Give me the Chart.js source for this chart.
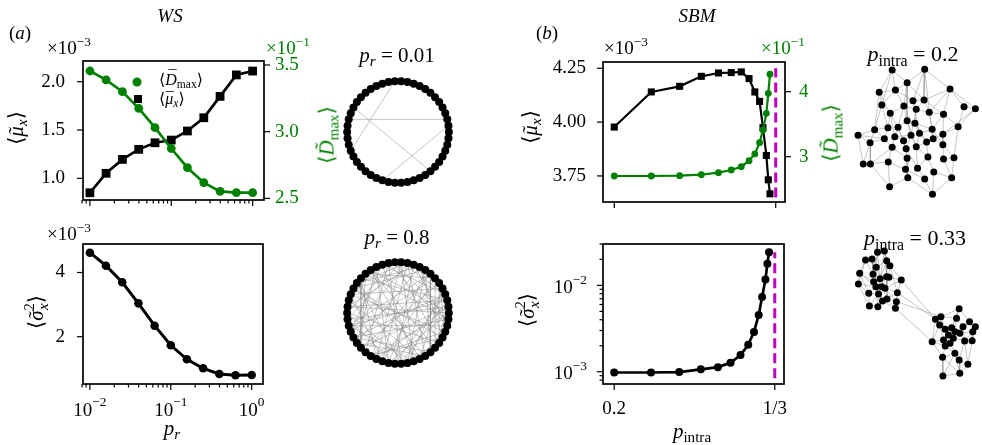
<!DOCTYPE html>
<html>
<head>
<meta charset="utf-8">
<script src="https://cdn.jsdelivr.net/npm/chart.js@4.4.1/dist/chart.umd.min.js"></script>
<style>
html, body { margin: 0; padding: 0; background: #fff; }
#fig { position: relative; width: 982px; height: 445px; overflow: hidden;
       font-family: "Liberation Serif", "DejaVu Serif", serif; color: #000; }
#fig canvas { position: absolute; left: 0; top: 0; }
.t { position: absolute; white-space: nowrap; line-height: 1; transform: translate(-50%, -50%); }
.l { transform: translate(0, -50%); }
.rot { transform: translate(-50%, -50%) rotate(-90deg); }
.g { color: #008000; }
i { font-style: italic; }
sub { font-size: 0.72em; vertical-align: -0.3em; line-height: 0; }
sup { font-size: 0.7em; vertical-align: 0.55em; line-height: 0; }
.mk { position: absolute; transform: translate(-50%, -50%); }
.acc { position: relative; display: inline-block; font-style: italic; }
.acc::after { content: attr(data-a); position: absolute; left: 58%; top: 0.02em; transform: translateX(-50%); font-style: normal; }
.acc.hi::after { top: -0.2em; left: 62%; }
</style>
</head>
<body>
<div id="fig">
  <canvas id="wsTop" width="982" height="445"></canvas>
  <canvas id="wsBot" width="982" height="445"></canvas>
  <canvas id="sbmTop" width="982" height="445"></canvas>
  <canvas id="sbmBot" width="982" height="445"></canvas>
  <canvas id="ring001" width="982" height="445"></canvas>
  <canvas id="ring08" width="982" height="445"></canvas>
  <canvas id="sbm02" width="982" height="445"></canvas>
  <canvas id="sbm033" width="982" height="445"></canvas>

  <!-- titles -->
  <div class="t" style="left:170px;top:15px;font-size:19px"><i>WS</i></div>
  <div class="t" style="left:697px;top:15px;font-size:19px"><i>SBM</i></div>
  <div class="t" style="left:20px;top:32px;font-size:19px">(<i>a</i>)</div>
  <div class="t" style="left:547px;top:32px;font-size:19px">(<i>b</i>)</div>

  <!-- offset texts -->
  <div class="t l" style="left:47px;top:47px;font-size:19px">×10<sup>−3</sup></div>
  <div class="t l g" style="left:266px;top:47px;font-size:19px">×10<sup>−1</sup></div>
  <div class="t l" style="left:47px;top:233px;font-size:19px">×10<sup>−3</sup></div>
  <div class="t l" style="left:604px;top:47px;font-size:19px">×10<sup>−3</sup></div>
  <div class="t l g" style="left:761px;top:47px;font-size:19px">×10<sup>−1</sup></div>

  <!-- axis titles -->
  <div class="t rot" style="left:16px;top:128px;font-size:21px">⟨<span class="acc" data-a="˜">μ</span><sub><i>x</i></sub>⟩</div>
  <div class="t rot g" style="left:327px;top:135px;font-size:21px">⟨<span class="acc hi" data-a="˜">D</span><sub>max</sub>⟩</div>
  <div class="t rot" style="left:36px;top:312px;font-size:21px">⟨<span class="acc" data-a="˜">σ</span><sup>2</sup><sub style="margin-left:-0.45em"><i>x</i></sub>⟩</div>
  <div class="t rot" style="left:530px;top:127px;font-size:21px">⟨<span class="acc" data-a="˜">μ</span><sub><i>x</i></sub>⟩</div>
  <div class="t rot g" style="left:831px;top:133px;font-size:21px">⟨<span class="acc hi" data-a="˜">D</span><sub>max</sub>⟩</div>
  <div class="t rot" style="left:527px;top:310px;font-size:21px">⟨<span class="acc" data-a="˜">σ</span><sup>2</sup><sub style="margin-left:-0.45em"><i>x</i></sub>⟩</div>
  <div class="t" style="left:172px;top:428px;font-size:21px"><i>p</i><sub><i>r</i></sub></div>
  <div class="t" style="left:692px;top:431px;font-size:21px"><i>p</i><sub>intra</sub></div>

  <!-- network titles -->
  <div class="t" style="left:397px;top:55px;font-size:21px"><i>p</i><sub><i>r</i></sub> = 0.01</div>
  <div class="t" style="left:397px;top:237px;font-size:21px"><i>p</i><sub><i>r</i></sub> = 0.8</div>
  <div class="t" style="left:913px;top:54px;font-size:22px"><i>p</i><sub>intra</sub> = 0.2</div>
  <div class="t" style="left:915px;top:238px;font-size:22px"><i>p</i><sub>intra</sub> = 0.33</div>

  <!-- legend (WS top panel) -->
  <div class="mk" style="left:137px;top:82px;width:9px;height:9px;border-radius:50%;background:#008000"></div>
  <div class="t l" style="left:159px;top:80px;font-size:16px">⟨<span class="acc hi" data-a="¯">D</span><sub>max</sub>⟩</div>
  <div class="mk" style="left:138px;top:99px;width:8px;height:8px;background:#000"></div>
  <div class="t l" style="left:159px;top:99px;font-size:16px">⟨<span class="acc" data-a="¯">μ</span><sub><i>x</i></sub>⟩</div>
</div>

<script>
// ---------- WS sweep (x = rewiring prob p_r) ----------
const WS_PR = [0.01, 0.0158, 0.0251, 0.0398, 0.0631, 0.1, 0.158, 0.251, 0.398, 0.631, 1.0];
const WS_MU = [0.851, 1.052, 1.196, 1.300, 1.368, 1.396, 1.490, 1.627, 1.848, 2.070, 2.110];      // x1e-3
const WS_DMAX = [3.455, 3.388, 3.300, 3.175, 3.030, 2.874, 2.730, 2.618, 2.553, 2.543, 2.543];    // x1e-1
const WS_SIGMA2 = [4.617, 4.212, 3.695, 3.040, 2.343, 1.732, 1.296, 1.016, 0.838, 0.798, 0.807]; // x1e-3

// ---------- SBM sweep (x = p_intra) ----------
const SBM_P = [0.2, 0.2306, 0.254, 0.2719, 0.2861, 0.2966, 0.3049, 0.3113, 0.3161, 0.32, 0.3228, 0.3256, 0.3272, 0.3286];
const SBM_MU = [3.977, 4.140, 4.166, 4.2125, 4.228, 4.230, 4.233, 4.202, 4.140, 4.096, 3.974, 3.845, 3.732, 3.667]; // x1e-3
const SBM_DMAX = [2.703, 2.703, 2.708, 2.723, 2.754, 2.795, 2.846, 2.938, 3.042, 3.215, 3.410, 3.667, 3.975, 4.270]; // x1e-1
const SBM_SIGMA2 = [0.98e-3, 0.98e-3, 0.99e-3, 1.066e-3, 1.13e-3, 1.27e-3, 1.56e-3, 2.05e-3, 2.89e-3, 4.54e-3, 7.32e-3, 11.7e-3, 17.8e-3, 24.2e-3];
const SBM_CRIT = 1 / 3;
const SBM_CRIT_MU = [3.65, 4.25];
const SBM_CRIT_SIGMA2 = [8.4e-4, 2.42e-2];

// ---------- ticks ('^' marks a superscript) ----------
const WS_X_TICKS = [0.01, 0.1, 1];
const WS_X_LABELS = ['10^−2', '10^−1', '10^0'];
const WS_X_MINOR = [0.008, 0.009, 0.02, 0.03, 0.04, 0.05, 0.06, 0.07, 0.08, 0.09,
                    0.2, 0.3, 0.4, 0.5, 0.6, 0.7, 0.8, 0.9];
const WS_MU_TICKS = [1.0, 1.5, 2.0];
const WS_MU_LABELS = ['1.0', '1.5', '2.0'];
const WS_DMAX_TICKS = [2.5, 3.0, 3.5];
const WS_DMAX_LABELS = ['2.5', '3.0', '3.5'];
const WS_SIGMA2_TICKS = [2, 4];
const WS_SIGMA2_LABELS = ['2', '4'];
const SBM_X_TICKS = [0.2, 1 / 3];
const SBM_X_LABELS = ['0.2', '1/3'];
const SBM_MU_TICKS = [3.75, 4.0, 4.25];
const SBM_MU_LABELS = ['3.75', '4.00', '4.25'];
const SBM_DMAX_TICKS = [3, 4];
const SBM_DMAX_LABELS = ['3', '4'];
const SBM_SIGMA2_TICKS = [1e-3, 1e-2];
const SBM_SIGMA2_LABELS = ['10^−3', '10^−2'];
const SBM_SIGMA2_MINOR = [8e-4, 9e-4, 2e-3, 3e-3, 4e-3, 5e-3, 6e-3, 7e-3, 8e-3, 9e-3, 2e-2, 3e-2];

// ---------- networks ----------
const WS_N = 50;
const WS_EDGES_001 = [[13, 28], [21, 43], [23, 2], [35, 1], [40, 45]];
const WS_EDGES_08 = [
  [0, 17], [0, 33], [1, 26], [1, 44], [2, 19], [2, 38], [3, 12], [3, 29], [4, 41], [4, 22],
  [5, 31], [5, 47], [6, 18], [6, 35], [7, 27], [7, 43], [8, 21], [8, 39], [9, 46], [9, 30],
  [10, 24], [10, 37], [11, 42], [11, 28], [12, 34], [13, 45], [13, 25], [14, 32], [14, 48], [15, 40],
  [15, 3], [16, 36], [16, 23], [17, 44], [18, 49], [19, 31], [20, 38], [20, 9], [21, 46], [22, 35],
  [23, 41], [24, 2], [25, 39], [26, 12], [27, 48], [28, 6], [29, 43], [30, 16], [31, 1], [32, 7],
  [33, 47], [34, 19], [35, 11], [36, 0], [37, 26], [38, 14], [39, 4], [40, 27], [41, 17], [42, 30],
  [43, 8], [44, 21], [45, 5], [46, 33], [47, 22], [48, 10], [49, 29], [0, 24], [12, 40], [18, 31],
  [25, 45], [36, 8], [3, 37], [15, 28], [20, 42], [44, 6], [1, 34], [49, 13], [2, 27], [11, 20], [39, 46]
];

// spring-layout positions (layout units, y down)
const SBM02_X = [222, 322, 268, 182, 232, 400, 190, 258, 286, 320, 296, 336, 380, 443, 478, 216, 268, 292, 209, 240,
                 168, 345, 425, 117, 198, 230, 280, 306, 257, 328, 348, 378, 154, 222, 265, 296, 378, 268, 332, 380,
                 412, 133, 155, 210, 263, 300, 350, 270, 322, 405, 214, 346];
const SBM02_Y = [120, 118, 158, 187, 180, 177, 225, 228, 212, 210, 238, 247, 253, 230, 236, 250, 272, 280, 293, 292,
                 299, 298, 290, 316, 326, 320, 316, 310, 332, 336, 326, 313, 338, 352, 356, 350, 344, 385, 381, 387,
                 383, 402, 402, 396, 418, 415, 426, 443, 447, 443, 470, 493];
const SBM02_EDGES = [
  [0, 3], [0, 4], [0, 2], [0, 6], [1, 2], [1, 8], [1, 9], [1, 11], [1, 5], [2, 4], [2, 7], [2, 9], [3, 6], [3, 4],
  [3, 15], [4, 8], [4, 7], [5, 9], [5, 13], [5, 14], [5, 12], [5, 11], [6, 15], [6, 20], [6, 18], [7, 10], [7, 16],
  [7, 15], [8, 10], [8, 9], [9, 11], [9, 12], [10, 17], [10, 11], [10, 26], [11, 21], [11, 12], [12, 22], [12, 31],
  [13, 14], [13, 22], [14, 22], [14, 31], [15, 19], [15, 18], [16, 19], [16, 26], [16, 17], [17, 27], [17, 21],
  [18, 24], [18, 20], [19, 25], [19, 28], [20, 23], [20, 32], [21, 30], [21, 27], [22, 31], [22, 40], [23, 32],
  [23, 24], [23, 41], [24, 33], [24, 32], [25, 28], [25, 33], [26, 34], [26, 28], [27, 35], [27, 29], [28, 34],
  [29, 30], [29, 35], [29, 38], [30, 36], [31, 36], [32, 42], [32, 41], [33, 43], [33, 37], [34, 37], [35, 38],
  [35, 45], [36, 39], [36, 40], [37, 44], [38, 46], [38, 45], [39, 40], [39, 49], [40, 49], [41, 42], [41, 43],
  [42, 50], [43, 50], [43, 44], [44, 47], [45, 48], [46, 49], [46, 51], [47, 50], [47, 51], [48, 51], [49, 51],
  [2, 16], [8, 27], [15, 25], [19, 34], [26, 35], [11, 30], [20, 24], [3, 20], [12, 21], [9, 10], [7, 19], [4, 6],
  [31, 30], [34, 45], [37, 47], [44, 48], [33, 42], [28, 37], [21, 36], [17, 29], [25, 26], [16, 35]
];

const SBM033_X = [177, 198, 140, 160, 205, 173, 215, 122, 163, 185, 205, 250, 118, 165, 172, 190, 200, 150, 180, 238,
                  206, 192, 178, 152, 235, 232, 212,
                  428, 355, 372, 420, 460, 478, 368, 385, 405, 440, 415, 395, 430, 470, 380, 410, 400, 445, 345,
                  468, 385, 415, 377, 428, 455, 378, 430];
const SBM033_Y = [97, 93, 120, 117, 122, 142, 137, 160, 163, 176, 170, 180, 192, 185, 200, 200, 205, 220, 222, 218,
                  237, 243, 260, 258, 245, 265, 172,
                  266, 298, 290, 295, 305, 320, 315, 328, 323, 320, 335, 345, 340, 335, 360, 355, 370, 363, 365,
                  362, 378, 400, 412, 420, 433, 468, 460];
const SBM033_EDGES = [
  [0, 1], [0, 3], [0, 5], [0, 8], [1, 4], [1, 6], [1, 9], [2, 3], [2, 7], [2, 8], [3, 5], [3, 13], [4, 6], [4, 10],
  [4, 5], [5, 8], [5, 9], [5, 14], [6, 11], [6, 26], [7, 12], [7, 13], [7, 17], [8, 13], [8, 15], [9, 10], [9, 16],
  [9, 18], [10, 26], [10, 15], [11, 19], [11, 16], [12, 17], [12, 14], [13, 14], [13, 18], [14, 22], [14, 21],
  [15, 16], [15, 20], [16, 19], [16, 24], [17, 23], [17, 18], [18, 21], [18, 22], [19, 24], [19, 20], [20, 25],
  [20, 21], [21, 22], [22, 23], [23, 18], [24, 25], [26, 16], [2, 12], [0, 9], [1, 10], [3, 8], [6, 19], [25, 21],
  [11, 26], [7, 14], [12, 23], [15, 18], [10, 20], [4, 9], [17, 14], [24, 20],
  [27, 30], [27, 31], [27, 35], [27, 29], [28, 29], [28, 33], [28, 45], [29, 33], [29, 34], [29, 30], [30, 35],
  [30, 36], [30, 37], [31, 32], [31, 36], [31, 40], [32, 40], [32, 46], [33, 34], [33, 41], [34, 35], [34, 38],
  [35, 37], [35, 42], [36, 39], [36, 37], [37, 42], [37, 39], [38, 41], [38, 43], [39, 44], [39, 40], [40, 46],
  [41, 43], [41, 47], [41, 45], [42, 43], [42, 44], [43, 47], [43, 48], [44, 46], [44, 51], [45, 49], [45, 47],
  [47, 49], [48, 50], [48, 49], [49, 52], [50, 51], [50, 53], [52, 53], [51, 53], [48, 53], [46, 51], [34, 37],
  [38, 42], [33, 45], [36, 44], [40, 44], [47, 48], [49, 53], [50, 44], [52, 48],
  [11, 28], [19, 28], [24, 29], [25, 45]
];

// ---------- layout ----------
const W = 982, H = 445;
const GREEN = '#008000';
const MAGENTA = '#bf00bf';
const EDGE_COLOR = 'rgba(128,128,128,0.5)';
const FAMILY = '"Liberation Serif", "DejaVu Serif", serif';
const TICK_SIZE = 19;

const AREA_WS_TOP = { left: 83, right: 264, top: 61, bottom: 200 };
const AREA_WS_BOT = { left: 83, right: 263, top: 244, bottom: 384 };
const AREA_SBM_TOP = { left: 603, right: 785, top: 62, bottom: 202 };
const AREA_SBM_BOT = { left: 603, right: 784, top: 244, bottom: 384 };

const LW = 80, RW = 40, XH = 40;

function padFor(a, rightAxis) {
  return { left: a.left - LW, top: a.top, right: W - a.right - (rightAxis ? RW : 0), bottom: H - a.bottom - XH };
}

// draws "base^exp" with a raised, smaller exponent
function drawTickText(ctx, text, x, y, align, color) {
  const [base, exp] = text.split('^');
  const es = TICK_SIZE * 0.7;
  ctx.font = TICK_SIZE + 'px ' + FAMILY;
  const wb = ctx.measureText(base).width;
  let we = 0;
  if (exp) { ctx.font = es + 'px ' + FAMILY; we = ctx.measureText(exp).width; }
  const total = wb + we;
  const x0 = align === 'right' ? x - total : align === 'center' ? x - total / 2 : x;
  const yb = exp ? y + TICK_SIZE * 0.14 : y;
  ctx.fillStyle = color;
  ctx.textAlign = 'left';
  ctx.textBaseline = 'middle';
  ctx.font = TICK_SIZE + 'px ' + FAMILY;
  ctx.fillText(base, x0, yb);
  if (exp) {
    ctx.font = es + 'px ' + FAMILY;
    ctx.fillText(exp, x0 + wb, yb - TICK_SIZE * 0.42);
  }
}

// frame, outward tick marks (major longer than minor) and tick labels
function frameAndTicks(axes) {
  return {
    id: 'frameAndTicks',
    afterDatasetsDraw(chart) {
      const ctx = chart.ctx, a = chart.chartArea;
      ctx.save();
      ctx.strokeStyle = '#000';
      ctx.lineWidth = 1.2;
      Object.keys(axes).forEach(key => {
        const s = chart.scales[key], o = axes[key];
        s.ticks.forEach(t => {
          const len = t.major ? 6 : 3.5;
          const p = s.getPixelForValue(t.value);
          ctx.beginPath();
          if (o.position === 'bottom') { ctx.moveTo(p, a.bottom); ctx.lineTo(p, a.bottom + len); }
          else if (o.position === 'left') { ctx.moveTo(a.left - len, p); ctx.lineTo(a.left, p); }
          else { ctx.moveTo(a.right, p); ctx.lineTo(a.right + len, p); }
          ctx.stroke();
        });
        if (!o.labels) return;
        o.major.forEach((v, i) => {
          const p = s.getPixelForValue(v);
          const c = o.color || '#000';
          if (o.position === 'bottom') drawTickText(ctx, o.labels[i], p, a.bottom + o.gap, 'center', c);
          else if (o.position === 'left') drawTickText(ctx, o.labels[i], a.left - o.gap, p, 'right', c);
          else drawTickText(ctx, o.labels[i], a.right + o.gap, p, 'left', c);
        });
      });
      ctx.lineWidth = 1.7;
      ctx.strokeRect(a.left, a.top, a.right - a.left, a.bottom - a.top);
      ctx.restore();
    }
  };
}

function scaleFrom(o) {
  return {
    type: o.type || 'linear',
    position: o.position,
    min: o.min,
    max: o.max,
    afterBuildTicks(s) {
      s.ticks = o.major.map(v => ({ value: v, major: true }))
        .concat((o.minor || []).map(v => ({ value: v, major: false })))
        .sort((p, q) => p.value - q.value);
    },
    afterFit(s) {
      if (s.isHorizontal()) s.height = XH; else s.width = o.position === 'right' ? RW : LW;
      s.paddingLeft = s.paddingRight = s.paddingTop = s.paddingBottom = 0;
    },
    grid: { display: false, drawTicks: false },
    border: { display: false },
    ticks: { display: false, autoSkip: false }
  };
}

function series(xs, ys, extra) {
  return Object.assign({
    data: xs.map((x, i) => ({ x, y: ys[i] })),
    showLine: true,
    pointBorderWidth: 0,
    borderColor: '#000',
    backgroundColor: '#000',
    pointBackgroundColor: extra.borderColor || '#000'
  }, extra);
}

function plotChart(id, area, axes, datasets) {
  const scales = {};
  Object.keys(axes).forEach(k => { scales[k] = scaleFrom(axes[k]); });
  return new Chart(document.getElementById(id), {
    type: 'scatter',
    data: { datasets },
    options: {
      animation: false,
      responsive: false,
      events: [],
      layout: { padding: padFor(area, !!axes.y2) },
      scales,
      plugins: { legend: { display: false }, tooltip: { enabled: false } }
    },
    plugins: [frameAndTicks(axes)]
  });
}

// ----- (a) WS top: <mu_x> and <D_max> -----
plotChart('wsTop', AREA_WS_TOP, {
  x: { type: 'logarithmic', position: 'bottom', min: 0.00822, max: 1.38, major: WS_X_TICKS, minor: WS_X_MINOR },
  y: { position: 'left', min: 0.776, max: 2.214, major: WS_MU_TICKS, labels: WS_MU_LABELS, gap: 18 },
  y2: { position: 'right', min: 2.488, max: 3.53, major: WS_DMAX_TICKS, labels: WS_DMAX_LABELS, gap: 11, color: GREEN }
}, [
  series(WS_PR, WS_DMAX, { yAxisID: 'y2', borderColor: GREEN, borderWidth: 2.7, pointRadius: 4.4, order: 0 }),
  series(WS_PR, WS_MU, { yAxisID: 'y', borderWidth: 2.7, pointStyle: 'rect', pointRadius: 6.2, order: 1 })
]);

// ----- (a) WS bottom: <sigma_x^2> -----
plotChart('wsBot', AREA_WS_BOT, {
  x: { type: 'logarithmic', position: 'bottom', min: 0.00822, max: 1.38, major: WS_X_TICKS, minor: WS_X_MINOR, labels: WS_X_LABELS, gap: 24 },
  y: { position: 'left', min: 0.527, max: 4.888, major: WS_SIGMA2_TICKS, labels: WS_SIGMA2_LABELS, gap: 18 }
}, [
  series(WS_PR, WS_SIGMA2, { borderWidth: 3, pointRadius: 4.3 })
]);

// ----- (b) SBM top: <mu_x>, <D_max>, critical p_intra -----
plotChart('sbmTop', AREA_SBM_TOP, {
  x: { position: 'bottom', min: 0.1907, max: 0.341, major: SBM_X_TICKS },
  y: { position: 'left', min: 3.629, max: 4.279, major: SBM_MU_TICKS, labels: SBM_MU_LABELS, gap: 17 },
  y2: { position: 'right', min: 2.303, max: 4.457, major: SBM_DMAX_TICKS, labels: SBM_DMAX_LABELS, gap: 14, color: GREEN }
}, [
  series([SBM_CRIT, SBM_CRIT], SBM_CRIT_MU, { yAxisID: 'y', borderColor: MAGENTA, borderWidth: 3, borderDash: [10, 5], pointRadius: 0, order: 0 }),
  series(SBM_P, SBM_DMAX, { yAxisID: 'y2', borderColor: GREEN, borderWidth: 2.2, pointRadius: 3.4, order: 1 }),
  series(SBM_P, SBM_MU, { yAxisID: 'y', borderWidth: 2.2, pointStyle: 'rect', pointRadius: 5, order: 2 })
]);

// ----- (b) SBM bottom: <sigma_x^2> (log) -----
plotChart('sbmBot', AREA_SBM_BOT, {
  x: { position: 'bottom', min: 0.1907, max: 0.341, major: SBM_X_TICKS, labels: SBM_X_LABELS, gap: 25 },
  y: { type: 'logarithmic', position: 'left', min: 7.21e-4, max: 0.0301, major: SBM_SIGMA2_TICKS, minor: SBM_SIGMA2_MINOR, labels: SBM_SIGMA2_LABELS, gap: 16 }
}, [
  series([SBM_CRIT, SBM_CRIT], SBM_CRIT_SIGMA2, { borderColor: MAGENTA, borderWidth: 3, borderDash: [10, 5], pointRadius: 0, order: 0 }),
  series(SBM_P, SBM_SIGMA2, { borderWidth: 2.7, pointRadius: 4, order: 1 })
]);

// ----- network drawings -----
function netChart(id, box, xr, yr, yDown, xs, ys, edges, r) {
  const edgeSets = edges.map(([p, q]) => ({
    data: [{ x: xs[p], y: ys[p] }, { x: xs[q], y: ys[q] }],
    showLine: true, borderColor: EDGE_COLOR, borderWidth: 0.9, pointRadius: 0, clip: false, order: 1
  }));
  const nodes = {
    data: xs.map((x, i) => ({ x, y: ys[i] })),
    showLine: false, pointRadius: r, pointBorderWidth: 0, pointBackgroundColor: '#000', clip: false, order: 0
  };
  return new Chart(document.getElementById(id), {
    type: 'scatter',
    data: { datasets: [nodes].concat(edgeSets) },
    options: {
      animation: false, responsive: false, events: [],
      layout: { padding: { left: box.left, top: box.top, right: W - box.left - box.w, bottom: H - box.top - box.h } },
      scales: {
        x: { type: 'linear', display: false, min: xr[0], max: xr[1] },
        y: { type: 'linear', display: false, min: yr[0], max: yr[1], reverse: yDown }
      },
      plugins: { legend: { display: false }, tooltip: { enabled: false } }
    }
  });
}

// circular layout of the WS ring
const ringX = [], ringY = [];
for (let i = 0; i < WS_N; i++) {
  ringX.push(Math.cos(2 * Math.PI * i / WS_N));
  ringY.push(Math.sin(2 * Math.PI * i / WS_N));
}

netChart('ring001', { left: 338, top: 72, w: 120, h: 120 }, [-1.18, 1.18], [-1.18, 1.18], false, ringX, ringY, WS_EDGES_001, 4);
netChart('ring08', { left: 338, top: 253, w: 120, h: 120 }, [-1.18, 1.18], [-1.18, 1.18], false, ringX, ringY, WS_EDGES_08, 4);
netChart('sbm02', { left: 820, top: 30, w: 162, h: 180 }, [0, 486], [0, 540], true, SBM02_X, SBM02_Y, SBM02_EDGES, 3.5);
netChart('sbm033', { left: 820, top: 220, w: 162, h: 180 }, [0, 486], [0, 540], true, SBM033_X, SBM033_Y, SBM033_EDGES, 3.5);
</script>
</body>
</html>
